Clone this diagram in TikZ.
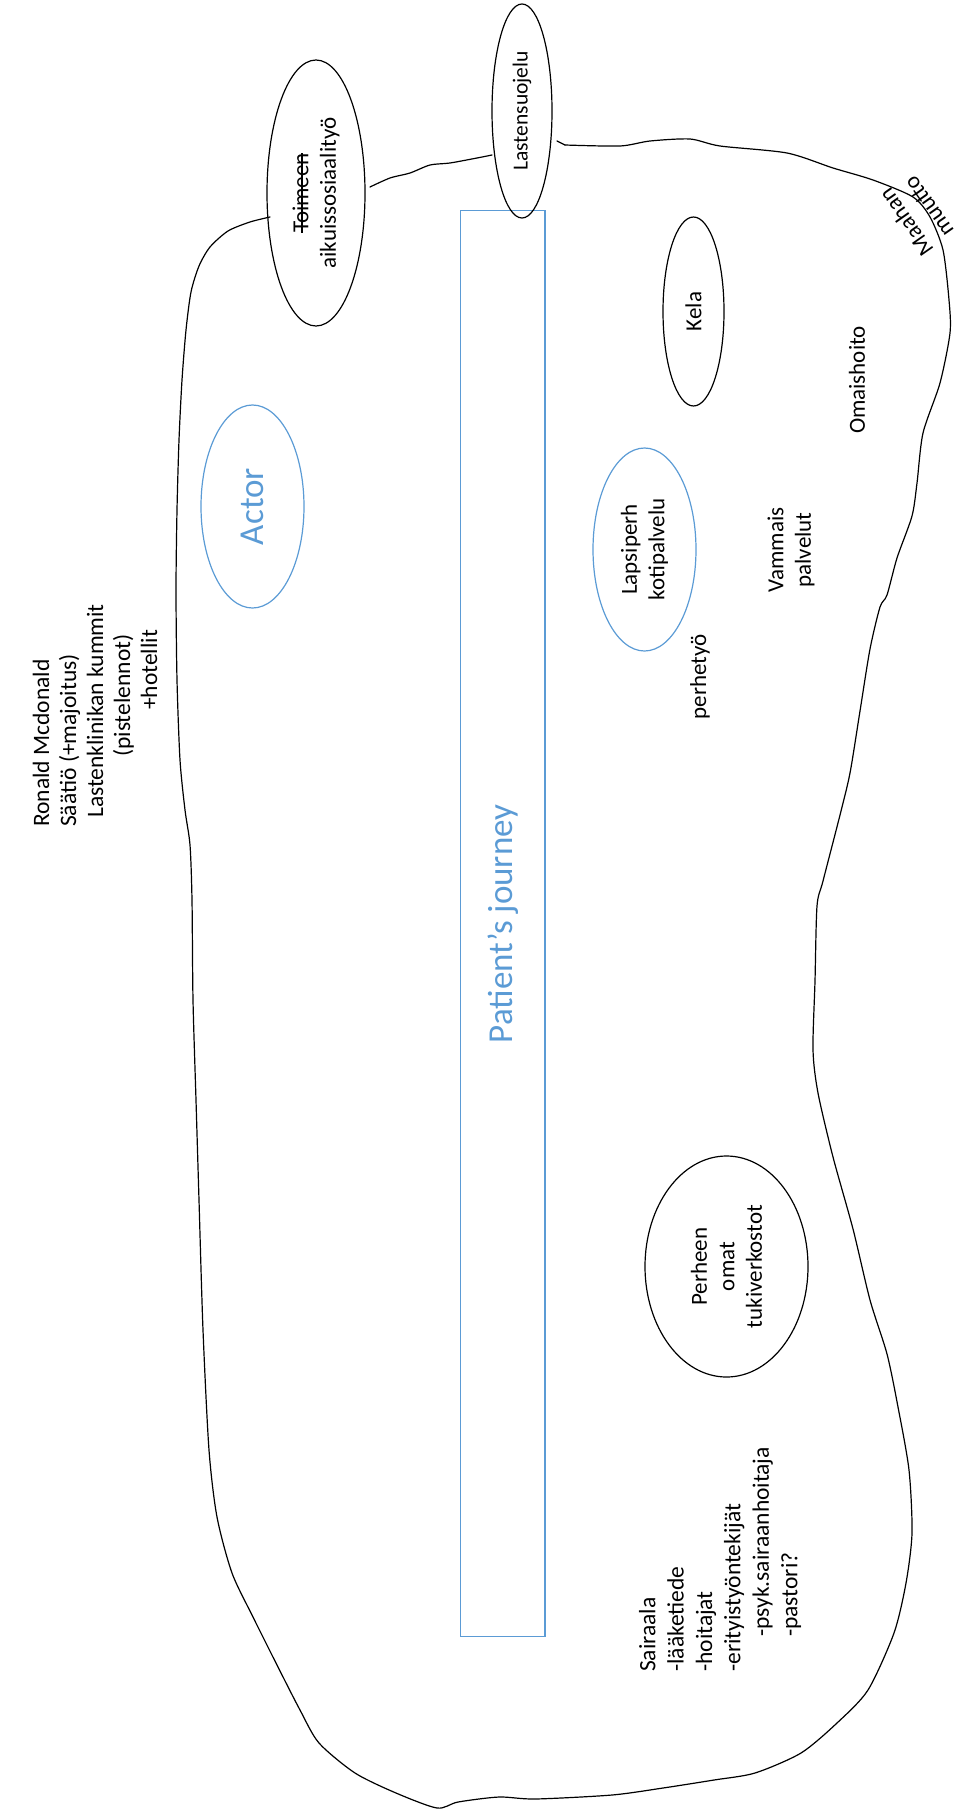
\documentclass[tikz,border=0pt]{standalone}
\usepackage{fontspec}
\setmainfont{Carlito}
\usetikzlibrary{shapes.geometric}
\definecolor{accent}{RGB}{91,155,213}
% struck-through word
\newcommand\struckword[1]{\setbox0=\hbox{#1}\rlap{\rule[0.24em]{\wd0}{0.06em}}\box0}
\begin{document}
\begin{tikzpicture}[x=1pt,y=-1pt,
  txt/.style={font=\fontsize{23}{27.5}\selectfont, inner sep=0pt},
  bubble/.style={draw, ellipse, line width=1.2pt, inner sep=0pt, rotate=90,
    font=\fontsize{23}{27.5}\selectfont, align=center},
  bluebubble/.style={bubble, draw=accent},
  outline/.style={line width=1.2pt, line join=round, line cap=round}]
\useasboundingbox (0,0) rectangle (957,1814);

% the path-of-care rectangle
\node[draw=accent, line width=1.2pt, rotate=90, minimum width=1426, minimum height=84.5,
  inner sep=0pt, text=accent, font=\fontsize{35}{40}\selectfont] (journey) at (502.75,923.8) {Patient’s journey};

% services in bubbles
\node[bubble, minimum width=266, minimum height=98] (toim) at (316,193)
  {\struckword{Toimeen}\\aikuissosiaalityö};
\node[bubble, minimum width=214, minimum height=60, font=\fontsize{21.5}{26}\selectfont] (lsuo) at (522,111) {Lastensuojelu};
\node[bluebubble, minimum width=203, minimum height=103, text=accent,
  font=\fontsize{35}{40}\selectfont] (actor) at (252.5,506.5) {Actor};
\node[bubble, minimum width=189, minimum height=61] (kela) at (693.5,311.5) {Kela};
\node[bluebubble, minimum width=203, minimum height=103] (lapsi) at (644.5,549.5) {Lapsiperh\\kotipalvelu};
\node[bubble, minimum width=221, minimum height=163] (perhe) at (726.5,1266.5) {Perheen\\omat\\tukiverkostot};

% free labels
\node[txt, rotate=90] (perhetyo) at (700,677) {perhetyö};
\node[txt, rotate=90, align=center] (vammais) at (791,550) {Vammais\\palvelut};
\node[txt, rotate=90] (omais) at (857,380) {Omaishoito};
\node[txt, rotate=125, align=center] (maahan) at (917,215) {Maahan\\muutto};

\node[txt, rotate=90, anchor=west, align=left, font=\fontsize{23.5}{27}\selectfont] (ronald) at (95,827)
  {Ronald Mcdonald\\Säätiö (+majoitus)\\\hspace*{9pt}Lastenklinikan kummit\\\hspace*{70pt}(pistelennot)\\\hspace*{117pt}+hotellit};

\node[txt, rotate=90, anchor=west, align=left, font=\fontsize{23.5}{28.4}\selectfont] (sairaala) at (720,1672)
  {Sairaala\\-lääketiede\\-hoitajat\\-erityistyöntekijät\\\hspace*{35pt}-psyk.sairaanhoitaja\\\hspace*{35pt}-pastori?};

% hand-drawn outline
\draw[outline] plot[smooth, tension=0.45] coordinates {
  (270,217) (250,222) (228,231) (210,247) (199,266) (191,292) (186,330) (182,380)
  (179,440) (177,510) (176,590) (177,680) (180,760) (185,810) (190,845) (192,900)
  (193,1000) (196,1100) (199,1200) (203,1330) (209,1450) (217,1517) (232,1573)
  (253,1617) (278,1667) (300,1710) (319,1743) (355,1773) (396,1793) (437,1808)
  (458,1802) (499,1797) (535,1799) (612,1795) (663,1788) (714,1780) (755,1773)
  (801,1753) (837,1723) (868,1690) (894,1633) (906,1583) (912,1533) (909,1470)
  (898,1407) (887,1354) (870,1300) (853,1229) (833,1157) (818,1093) (813,1050)
  (815,981) (817,906) (823,881) (840,815) (850,773) (860,711) (870,649) (880,607)
  (887,595) (897,558) (912,516) (917,483) (923,433) (940,383) (950,333) (949,300)
  (943,250) (930,217) (913,197) (873,180) (833,168) (787,153) (720,146) (690,139)
  (650,141) (620,146) (565,145)};
\draw[outline] (565,145) -- (557,141);
\draw[outline] plot[smooth, tension=0.45] coordinates {
  (370,187) (390,178) (410,173) (430,165) (450,163) (477,158) (492,155)};
\end{tikzpicture}
\end{document}
